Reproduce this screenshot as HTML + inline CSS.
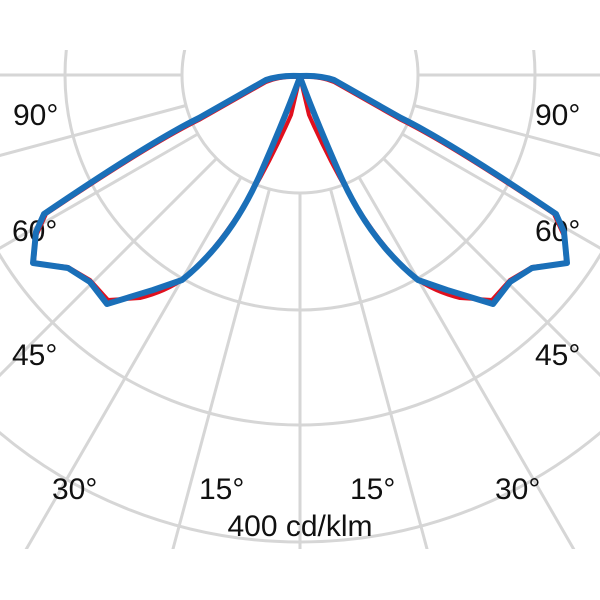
<!DOCTYPE html>
<html><head><style>html,body{margin:0;padding:0;background:#fff;overflow:hidden;width:600px;height:600px}svg{display:block}</style></head>
<body>
<svg width="600" height="600" viewBox="0 0 600 600" xmlns="http://www.w3.org/2000/svg">
<defs><clipPath id="c"><rect x="0" y="50" width="600" height="499"/></clipPath></defs>
<g clip-path="url(#c)" stroke="#d6d6d6" stroke-width="3" fill="none">
<circle cx="300" cy="75" r="118"/>
<circle cx="300" cy="75" r="235"/>
<circle cx="300" cy="75" r="350"/>
<circle cx="300" cy="75" r="467"/>
<circle cx="300" cy="75" r="584"/>
<line x1="300" y1="193" x2="300" y2="700"/>
<line x1="269.5" y1="189" x2="140" y2="672"/>
<line x1="241" y1="177.2" x2="-10" y2="612"/>
<line x1="216.6" y1="158.4" x2="-200" y2="575"/>
<line x1="197.8" y1="134" x2="-300" y2="421"/>
<line x1="186" y1="105.5" x2="-300" y2="236"/>
<line x1="182" y1="75" x2="-300" y2="75"/>
<line x1="330.5" y1="189" x2="460" y2="672"/>
<line x1="359" y1="177.2" x2="610" y2="612"/>
<line x1="383.4" y1="158.4" x2="800" y2="575"/>
<line x1="402.2" y1="134" x2="900" y2="421"/>
<line x1="414" y1="105.5" x2="900" y2="236"/>
<line x1="418" y1="75" x2="900" y2="75"/>
</g>
<g font-family="Liberation Sans, sans-serif" font-size="30" fill="#111">
<text x="13" y="125">90°</text>
<text x="535" y="125">90°</text>
<text x="12" y="241">60°</text>
<text x="535" y="241">60°</text>
<text x="12" y="365">45°</text>
<text x="535" y="365">45°</text>
<text x="52" y="499">30°</text>
<text x="199" y="499">15°</text>
<text x="350" y="499">15°</text>
<text x="495" y="499">30°</text>
<text x="300" y="536" text-anchor="middle">400 cd/klm</text>
</g>
<g fill="none" stroke-linejoin="round">
<path d="M300,77 Q280,76 266,82 L199,120 Q150,144 46,214 L36,236 L34,263 L68,267 L90,280 L108,300 L140,298 Q165,292 185,278 Q240,230 291,115 L300,77" stroke="#e0101e" stroke-width="4"/>
<path d="M300,77 Q280,76 266,82 L199,120 Q150,144 46,214 L36,236 L34,263 L68,267 L90,280 L108,300 L140,298 Q165,292 185,278 Q240,230 291,115 L300,77" stroke="#e0101e" stroke-width="4" transform="translate(600,0) scale(-1,1)"/>
<path d="M300,76 Q280,75 266,80 L199,118 Q150,142 44,214 L36,232 L33,263 L68,268 L90,282 L107,304 L153,290 L182,280 Q232,240 262,170 Q284,120 300,77" stroke="#1a6fb8" stroke-width="6"/>
<path d="M300,76 Q280,75 266,80 L199,118 Q150,142 44,214 L36,232 L33,263 L68,268 L90,282 L107,304 L153,290 L182,280 Q232,240 262,170 Q284,120 300,77" stroke="#1a6fb8" stroke-width="6" transform="translate(600,0) scale(-1,1)"/>
</g>
</svg>
</body></html>
